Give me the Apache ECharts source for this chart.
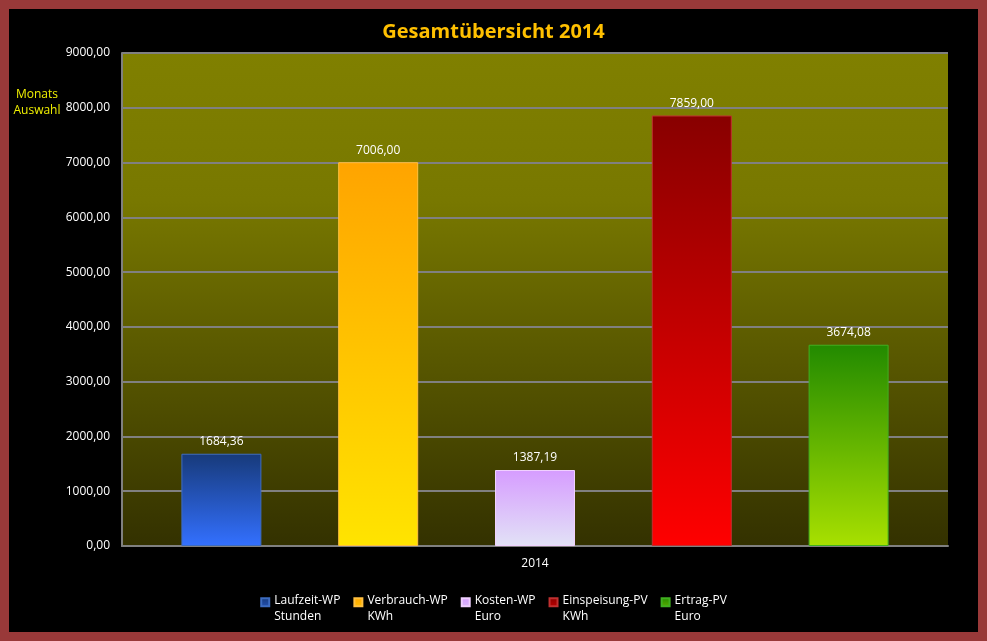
<!DOCTYPE html>
<html>
<head>
<meta charset="utf-8">
<script src="https://cdn.jsdelivr.net/npm/echarts@6/dist/echarts.min.js"></script>
<style>
    html, body { margin: 0; padding: 0; background: #993939; }
    #chart { width: 987px; height: 641px; box-sizing: border-box; border: 9px solid #993939; }
</style>
</head>
<body>
<div id="chart"></div>
<script>
    // daten aus der gesamtuebersicht
    var categories = ['2014'];
    var seriesNames = ['Laufzeit-WP\nStunden', 'Verbrauch-WP\nKWh', 'Kosten-WP\nEuro', 'Einspeisung-PV\nKWh', 'Ertrag-PV\nEuro'];
    var seriesValues = [1684.36, 7006.00, 1387.19, 7859.00, 3674.08];
    var yTicks = [0, 1000, 2000, 3000, 4000, 5000, 6000, 7000, 8000, 9000];

    // farbverlauf oben -> unten je balken
    var barColors = [
        ['#173a7a', '#3370ff', '#3d6cc0'],
        ['#ffa400', '#ffe400', '#ffc040'],
        ['#d69cff', '#e2e2f6', '#f0d0ff'],
        ['#880000', '#ff0000', '#c03030'],
        ['#228a00', '#a8e000', '#40b020']
    ];

    var fmt = function (v) {
        return Number(v).toFixed(2).replace('.', ',');
    };

    var grad = function (c) {
        return new echarts.graphic.LinearGradient(0, 0, 0, 1, [
            {offset: 0, color: c[0]},
            {offset: 1, color: c[1]}
        ]);
    };

    var series = [];
    for (var i = 0; i < seriesNames.length; i++) {
        series.push({
            name: seriesNames[i],
            type: 'bar',
            barWidth: 80,
            barGap: '96%',
            data: [seriesValues[i]],
            itemStyle: {
                color: grad(barColors[i]),
                borderColor: barColors[i][2],
                borderWidth: 1
            },
            label: {
                show: true,
                position: 'top',
                distance: 6,
                color: '#ffffff',
                fontSize: 12,
                fontFamily: 'Open Sans',
                formatter: function (p) { return fmt(p.value); }
            }
        });
    }

    var myChart = echarts.init(document.getElementById('chart'));
    var option = {
        backgroundColor: '#000000',
        animation: false,
        title: {
            text: 'Gesamtübersicht 2014',
            left: 'center',
            top: 8,
            textStyle: {color: '#ffc000', fontSize: 20, fontWeight: 'bold', fontFamily: 'Open Sans'}
        },
        graphic: [{
            type: 'text',
            x: 28,
            y: 78,
            style: {
                text: 'Monats\nAuswahl',
                fill: '#f0f000',
                fontSize: 12,
                fontFamily: 'Open Sans',
                lineHeight: 16,
                align: 'center'
            }
        }],
        legend: {
            bottom: 2,
            left: 'center',
            itemWidth: 8,
            itemHeight: 22,
            itemGap: 13,
            icon: 'path://M0,0L10,0L10,10L0,10Z M0,27L0,27L0,27Z',
            textStyle: {color: '#ffffff', fontSize: 12, fontFamily: 'Open Sans', lineHeight: 16}
        },
        grid: {
            left: 113,
            right: 30,
            top: 44,
            bottom: 86,
            show: true,
            borderWidth: 0,
            backgroundColor: new echarts.graphic.LinearGradient(0, 0, 0, 1, [
                {offset: 0, color: '#808000'},
                {offset: 0.3, color: '#787800'},
                {offset: 1, color: '#333100'}
            ])
        },
        xAxis: {
            type: 'category',
            data: categories,
            axisLine: {lineStyle: {color: '#808080', width: 2}},
            axisTick: {show: false},
            axisLabel: {color: '#ffffff', fontSize: 12, fontFamily: 'Open Sans', margin: 12}
        },
        yAxis: {
            type: 'value',
            min: yTicks[0],
            max: yTicks[yTicks.length - 1],
            interval: yTicks[1] - yTicks[0],
            axisLine: {show: true, lineStyle: {color: '#808080', width: 2}},
            axisTick: {show: false},
            splitLine: {lineStyle: {color: '#808080', width: 2}},
            axisLabel: {
                color: '#ffffff',
                fontSize: 12,
                fontFamily: 'Open Sans',
                margin: 12,
                formatter: function (v) { return fmt(v); }
            }
        },
        series: series
    };
    myChart.setOption(option);
</script>
</body>
</html>
